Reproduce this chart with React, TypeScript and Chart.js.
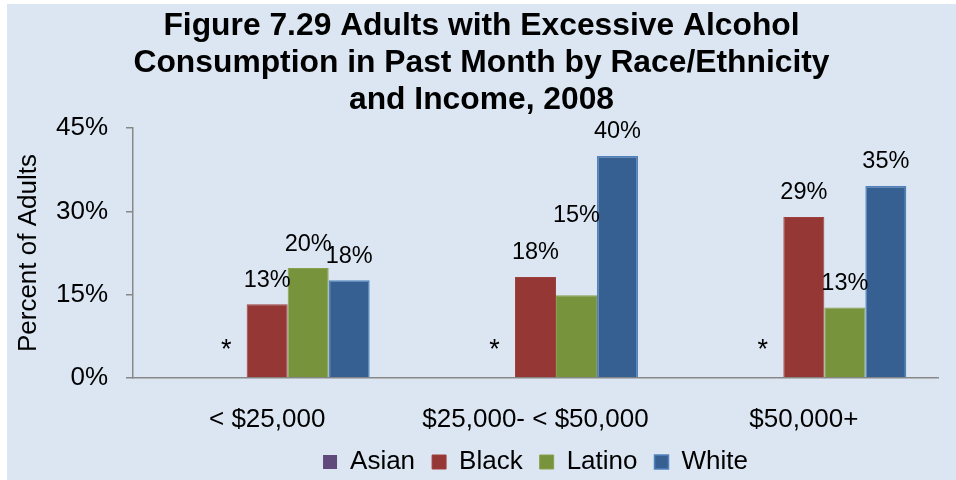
import React, { useEffect, useRef } from 'react';
import { Chart, registerables } from 'chart.js';

Chart.register(...registerables);

const titleLines = [
  'Figure 7.29 Adults with Excessive Alcohol',
  'Consumption in Past Month by Race/Ethnicity',
  'and Income, 2008',
];
const categories = ['< $25,000', '$25,000- < $50,000', '$50,000+'];
const seriesNames = ['Asian', 'Black', 'Latino', 'White'];
const asianValues = [0, 0, 0];
const blackValues = [13.3, 18.2, 29.0];
const latinoValues = [19.8, 14.9, 12.7];
const whiteValues = [17.6, 40.0, 34.6];
const asianMarks = ['*', '*', '*'];
const yAxisTitle = 'Percent of Adults';

const FONT = '"Liberation Sans", Arial, Helvetica, sans-serif';

const labelPlugin = {
  id: 'barLabels',
  afterDatasetsDraw(chart: any) {
    const ctx = chart.ctx;
    ctx.save();
    ctx.fillStyle = '#000000';
    ctx.textAlign = 'center';
    ctx.font = `23.5px ${FONT}`;
    ctx.textBaseline = 'middle';
    [2, 3, 4].forEach((di) => {
      const meta = chart.getDatasetMeta(di);
      meta.data.forEach((bar: any, i: number) => {
        const v = chart.data.datasets[di].data[i] as number;
        const lift = di === 3 && i === 1 ? 80 : 24;
        ctx.fillText(Math.round(v) + '%', bar.x, bar.y - lift);
      });
    });
    ctx.font = `27px ${FONT}`;
    ctx.textBaseline = 'alphabetic';
    const am = chart.getDatasetMeta(1);
    const y0 = chart.scales.y.getPixelForValue(0);
    am.data.forEach((bar: any, i: number) => {
      ctx.fillText(asianMarks[i], bar.x, y0 - 20);
    });
    ctx.restore();
  },
};

export default function App() {
  const canvasRef = useRef<HTMLCanvasElement | null>(null);

  useEffect(() => {
    if (!canvasRef.current) return;
    const chart = new Chart(canvasRef.current, {
      type: 'bar',
      data: {
        labels: categories,
        datasets: [
          { label: '', data: [0, 0, 0], backgroundColor: 'rgba(0,0,0,0)', borderWidth: 0 },
          { label: seriesNames[0], data: asianValues, backgroundColor: '#604A7B', borderWidth: 0 },
          { label: seriesNames[1], data: blackValues, backgroundColor: '#953735', borderColor: '#A0403E', borderWidth: 1 },
          { label: seriesNames[2], data: latinoValues, backgroundColor: '#77933C', borderColor: '#86A04C', borderWidth: 1 },
          { label: seriesNames[3], data: whiteValues, backgroundColor: '#376092', borderColor: '#4F81BD', borderWidth: 1.5 },
        ],
      },
      options: {
        animation: false,
        responsive: true,
        maintainAspectRatio: false,
        layout: { padding: { left: 18, right: 18, top: 0, bottom: -5 } },
        datasets: { bar: { categoryPercentage: 0.764, barPercentage: 1 } } as any,
        plugins: {
          title: {
            display: true,
            text: titleLines,
            color: '#000000',
            font: { family: FONT, size: 31.8, weight: 'bold', lineHeight: 1.165 },
            padding: { top: 4, bottom: 9 },
          },
          legend: {
            position: 'bottom',
            fullSize: false,
            labels: {
              color: '#000000',
              font: { family: FONT, size: 26 },
              boxWidth: 14,
              boxHeight: 14,
              padding: 17,
              filter: (item: any) => item.text !== '',
            },
          },
          tooltip: { enabled: false },
        },
        scales: {
          x: {
            afterFit: (s: any) => { s.height = 54; },
            grid: { display: true, drawOnChartArea: false, drawTicks: false },
            border: { display: true, color: '#888888', width: 1.5 },
            ticks: { color: '#000000', font: { family: FONT, size: 26 }, padding: 26 },
          },
          y: {
            min: 0,
            max: 45,
            afterFit: (s: any) => { s.width = 108; },
            ticks: {
              stepSize: 15,
              color: '#000000',
              font: { family: FONT, size: 26 },
              padding: 18,
              callback: (v: any) => v + '%',
            },
            grid: { drawOnChartArea: false, drawTicks: true, tickLength: 7, color: '#888888', lineWidth: 1.5 },
            border: { display: true, color: '#888888', width: 1.5 },
            title: {
              display: true,
              text: yAxisTitle,
              color: '#000000',
              font: { family: FONT, size: 26 },
              padding: { top: -12, bottom: 0 },
            },
          },
        },
      },
      plugins: [labelPlugin],
    });
    return () => chart.destroy();
  }, []);

  return (
    <div
      style={{
        position: 'absolute',
        left: 7,
        top: 4,
        width: 949,
        height: 476,
        background: '#DCE6F2',
      }}
    >
      <canvas ref={canvasRef} />
    </div>
  );
}
